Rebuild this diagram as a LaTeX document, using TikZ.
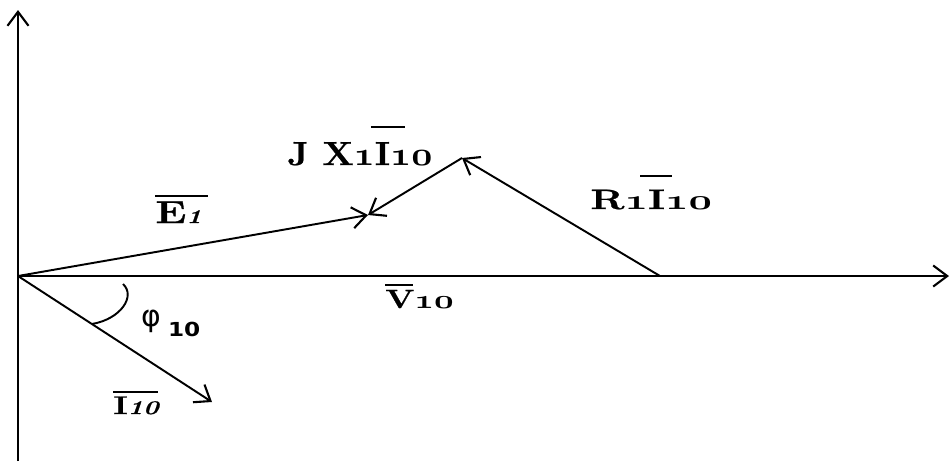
\RequirePackage{fix-cm}
\documentclass[tikz,border=0pt]{standalone}
\usepackage{fontspec}
\usepackage{graphicx}
\newfontfamily\dvs{DejaVu Sans}
\newfontfamily\heavy[FakeBold=0.7]{Latin Modern Roman}
\usetikzlibrary{arrows.meta}
\newcommand\ob[3]{\makebox[0pt][l]{\hspace*{#1}\raisebox{#2}{\rule{#3}{1.1pt}}}}
\newcommand\osn[1]{{\boldmath$\fam\symletters #1$}}
\begin{document}
\begin{tikzpicture}[x=0.02cm,y=-0.02cm,
  tipped/.style={-{Straight Barb[length=8pt,width=12pt,line width=1.2pt]}},
  vec/.style={tipped, line width=1.1pt},
  axisline/.style={tipped, line width=1.2pt},
  lbl/.style={inner sep=0pt, anchor=base west, font=\heavy\bfseries}]
\useasboundingbox (0,0) rectangle (951,461);
% points
\coordinate (O) at (18,276);
\coordinate (ytop) at (18,10);
\coordinate (ybot) at (18,461);
\coordinate (xend) at (949,276);
\coordinate (A) at (368,215);
\coordinate (B) at (462,158);
\coordinate (C) at (660,276);
\coordinate (Iend) at (212,402);
% axes
\draw[axisline] (ybot) -- (ytop);
\draw[axisline] (O) -- (xend);
% vectors
\draw[vec] (O) -- (A);
\draw[vec] (B) -- (A);
\draw[vec] (C) -- (B);
\draw[vec] (O) -- (Iend);
% angle arc
\draw[line width=1.1pt] (123,284) .. controls (136,296) and (121,319) .. (92,324);
% labels
\node[lbl] (jx) at (287,165) {\scalebox{1.1}[1]{\fontsize{19}{22}\selectfont J X\osn{1}\ob{-2pt}{21pt}{17.5pt}I\osn{10}}};
\node[lbl] (r) at (590,209) {\scalebox{1.45}[1]{\fontsize{16}{19}\selectfont R\osn{1}\ob{-3pt}{18pt}{12.5pt}I\osn{10}}};
\node[lbl] (e) at (155,223) {\scalebox{1.33}[1]{\fontsize{18}{21}\selectfont\ob{0pt}{14.7pt}{22.6pt}E{\fontsize{11}{13}\selectfont\itshape 1}}};
\node[lbl] (v) at (385,308) {\scalebox{1.3}[1]{\fontsize{15}{18}\selectfont\ob{0pt}{12.5pt}{12.2pt}V\osn{10}}};
\node[lbl] (i) at (113,414) {\scalebox{1.35}[1]{\fontsize{14.5}{17}\selectfont\ob{0pt}{11.9pt}{18.9pt}I{\fontsize{11}{13}\selectfont\itshape 10}}};
\node[inner sep=0pt, anchor=base west] (phi) at (141,326) {\dvs\fontsize{17}{20}\selectfont φ\hspace{4pt}\raisebox{-6pt}{\scalebox{1.2}[1]{\fontsize{11}{13}\selectfont\bfseries 10}}};
\end{tikzpicture}
\end{document}
